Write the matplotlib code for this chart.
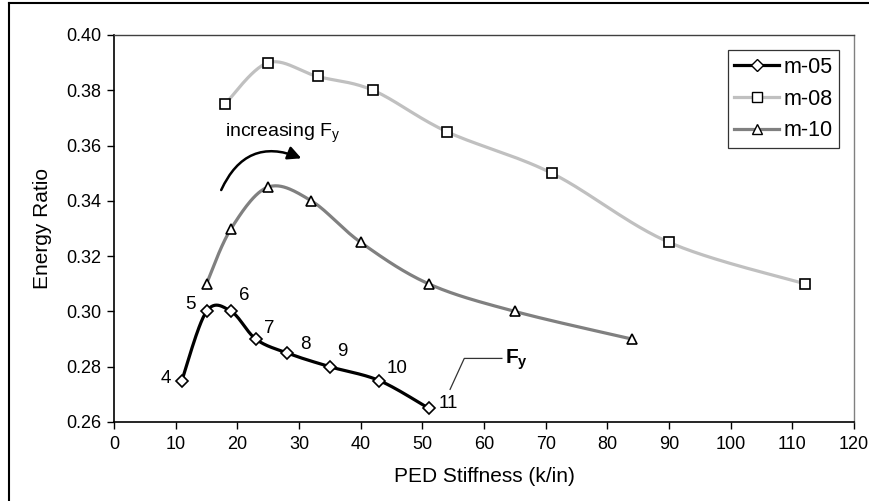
import numpy as np
import matplotlib
matplotlib.use('Agg')
import matplotlib.pyplot as plt
from matplotlib.lines import Line2D
from matplotlib.patches import FancyArrowPatch

plt.rcParams['font.family'] = ['Liberation Sans', 'DejaVu Sans']
plt.rcParams['mathtext.fontset'] = 'custom'
plt.rcParams['mathtext.rm'] = 'Liberation Sans'
plt.rcParams['mathtext.bf'] = 'Liberation Sans:bold'

# data
m05_x = [11, 15, 19, 23, 28, 35, 43, 51]
m05_y = [0.275, 0.300, 0.300, 0.290, 0.285, 0.280, 0.275, 0.265]
m05_lbl = ['4', '5', '6', '7', '8', '9', '10', '11']

m08_x = [18, 25, 33, 42, 54, 71, 90, 112]
m08_y = [0.375, 0.390, 0.385, 0.380, 0.365, 0.350, 0.325, 0.310]

m10_x = [15, 19, 25, 32, 40, 51, 65, 84]
m10_y = [0.310, 0.330, 0.345, 0.340, 0.325, 0.310, 0.300, 0.290]

xticks = np.arange(0, 121, 10)
yticks = [0.26, 0.28, 0.30, 0.32, 0.34, 0.36, 0.38, 0.40]


def smooth(xs, ys, n=30):
    # excel-ish smoothed line (catmull-rom bezier)
    p = np.column_stack([xs, ys]).astype(float)
    p = np.vstack([p[0], p, p[-1]])
    out = []
    for i in range(1, len(p) - 2):
        p0, p1, p2, p3 = p[i - 1], p[i], p[i + 1], p[i + 2]
        c1 = p1 + (p2 - p0) / 6.0
        c2 = p2 - (p3 - p1) / 6.0
        t = np.linspace(0, 1, n)[:, None]
        seg = ((1 - t) ** 3) * p1 + 3 * ((1 - t) ** 2) * t * c1 + 3 * (1 - t) * t ** 2 * c2 + t ** 3 * p2
        out.append(seg)
    out = np.vstack(out)
    return out[:, 0], out[:, 1]


fig = plt.figure(figsize=(8.69, 5.01), dpi=100)
ax = fig.add_axes([114 / 869, 1 - 422 / 501, 740 / 869, 387 / 501])

series = [
    (m05_x, m05_y, 'black', 'D', 6.0, 'm-05'),
    (m08_x, m08_y, '#c0c0c0', 's', 6.5, 'm-08'),
    (m10_x, m10_y, '#808080', '^', 7.5, 'm-10'),
]
handles = []
for xs, ys, col, mk, ms, name in series:
    sx, sy = smooth(xs, ys)
    ax.plot(sx, sy, color=col, lw=2.3, zorder=2, solid_capstyle='round')
    ax.plot(xs, ys, ls='none', marker=mk, ms=ms, mfc='white', mec='black',
            mew=1.2, zorder=3)
    handles.append(Line2D([], [], color=col, lw=2.3, marker=mk, ms=ms,
                          mfc='white', mec='black', mew=1.0, label=name))

# point labels for m-05
lbl_pos = [(8.4, 0.2758), (12.4, 0.3026), (21.2, 0.3056), (25.2, 0.2939),
           (31.1, 0.2881), (37.1, 0.2854), (45.9, 0.2794), (54.2, 0.2667)]
for (lx, ly), t in zip(lbl_pos, m05_lbl):
    ax.text(lx, ly, t, fontsize=13.5, ha='center', va='center')

# F_y callout
ax.plot([54.5, 56.8, 62.9], [0.2718, 0.283, 0.283], color='#333333', lw=0.9)
ax.text(63.4, 0.2826, r'$\mathbf{F_y}$', fontsize=15, ha='left', va='center')

ax.text(18.0, 0.3645, 'increasing F$_\\mathregular{y}$', fontsize=14,
        ha='left', va='center')
arr = FancyArrowPatch((17.2, 0.3430), (30.8, 0.3550),
                      connectionstyle='arc3,rad=-0.5', arrowstyle='-|>',
                      mutation_scale=20, lw=1.8, color='black')
ax.add_patch(arr)

ax.set_xlim(0, 120)
ax.set_ylim(0.26, 0.40)
ax.set_xticks(xticks)
ax.set_yticks(yticks)
ax.set_yticklabels(['%.2f' % v for v in yticks])
ax.tick_params(labelsize=13, direction='out', length=5, width=1, colors='black')
ax.tick_params(axis='x', pad=5)
ax.tick_params(axis='y', pad=4)
ax.spines['left'].set_linewidth(1.2)
ax.spines['bottom'].set_linewidth(1.2)
ax.spines['top'].set_color('#404040')
ax.spines['right'].set_color('#808080')
ax.spines['top'].set_linewidth(1.0)
ax.spines['right'].set_linewidth(1.0)

ax.set_xlabel('PED Stiffness (k/in)', fontsize=15, labelpad=10)
ax.set_ylabel('Energy Ratio', fontsize=15, labelpad=10)

leg = ax.legend(handles=handles, loc='upper right', bbox_to_anchor=(0.98, 0.96),
                fontsize=15.5, frameon=True, fancybox=False, handlelength=2.1,
                handletextpad=0.2, borderpad=0.3, labelspacing=0.5,
                borderaxespad=0)
leg.get_frame().set_edgecolor('black')
leg.get_frame().set_linewidth(0.9)

# outer chart border (only left/top visible in the crop)
fig.add_artist(Line2D([9 / 869, 9 / 869], [0, 1 - 3 / 501], color='black', lw=1.5,
                      transform=fig.transFigure))
fig.add_artist(Line2D([9 / 869, 1], [1 - 3 / 501, 1 - 3 / 501], color='black', lw=1.5,
                      transform=fig.transFigure))

fig.savefig('out.png', dpi=100)
